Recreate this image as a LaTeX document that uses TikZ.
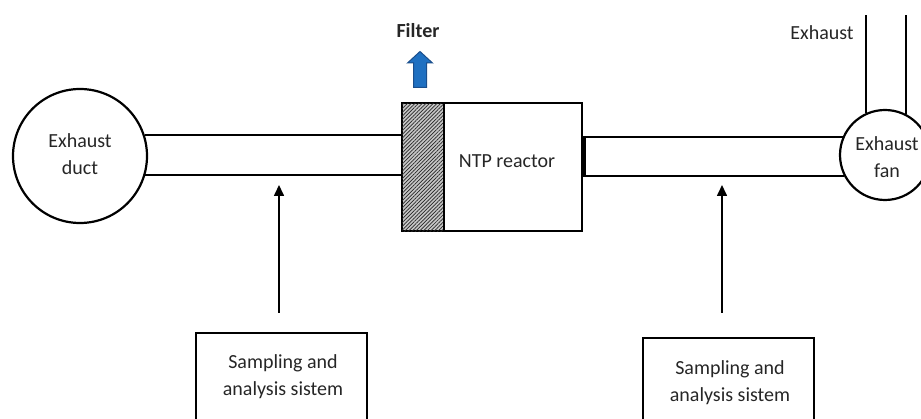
\documentclass[tikz,border=0pt]{standalone}
\usepackage{fontspec}
\setmainfont{Carlito}
\usetikzlibrary{arrows.meta,patterns.meta}
\definecolor{arrowblue}{HTML}{1F70C1}
\definecolor{arrowedge}{HTML}{1A4E8C}
\begin{document}
\begin{tikzpicture}[x=1pt,y=-1pt,
  lbl/.style={font=\fontsize{20}{27}\selectfont, align=center, inner sep=0pt, text=black!85},
  pipe/.style={line width=2pt},
  shp/.style={draw, line width=2.2pt, inner sep=0pt},
  sarrow/.style={line width=1.6pt, -{Triangle[length=11pt,width=10pt]}}]
\useasboundingbox (0,0) rectangle (921,419);
\clip (0,0) rectangle (921,419);

% circles
\node[shp, circle, minimum size=134pt] (duct) at (80,156) {};
\node[lbl] (ducttxt) at (80,154) {Exhaust\\duct};
\node[shp, circle, minimum size=90pt] (fan) at (885,155) {};
\node[lbl] (fantxt) at (887,157) {Exhaust\\fan};

% filter and reactor
\node[shp, anchor=north west, minimum width=42pt, minimum height=128pt,
      fill=gray!45, postaction={pattern={Lines[angle=45,distance=2.6pt,line width=0.7pt]}, pattern color=black!85}] (filter) at (401,102) {};
\node[shp, anchor=north west, minimum width=138pt, minimum height=128pt] (reactor) at (443,102) {};
\node[lbl] (reactortxt) at (507,161) {NTP reactor};

% pipe 1
\draw[pipe] (duct.18) -- (duct.18 -| filter.west);
\draw[pipe] (duct.-16) -- (duct.-16 -| filter.west);

% pipe 2
\draw[pipe] (fan.157.8) -- ([xshift=1pt]fan.157.8 -| reactor.east) -- ([xshift=1pt]fan.207.8 -| reactor.east) -- (fan.207.8);
\draw[line width=2.6pt] ([xshift=1.5pt]fan.157.8 -| reactor.east) -- ([xshift=1.5pt]fan.207.8 -| reactor.east);

% exhaust stack
\coordinate (stacktop) at (885,15);
\draw[pipe] (fan.115) -- (fan.115 |- stacktop);
\draw[pipe] (fan.63.6) -- (fan.63.6 |- stacktop);
\node[lbl] (exhausttxt) at (822,33) {Exhaust};

% filter label and arrow
\node[lbl, font=\fontsize{20}{27}\selectfont\bfseries] (filtertxt) at (418,31) {Filter};
\draw[fill=arrowblue, draw=arrowedge, line width=1pt, line join=miter]
  (413.5,87.5) -- (426.5,87.5) -- (426.5,63) -- (432.5,63) -- (420,51.5) -- (407.5,63) -- (413.5,63) -- cycle;

% sampling boxes
\node[shp, anchor=north west, minimum width=171pt, minimum height=110pt] (box1) at (195,332) {};
\node[lbl] (box1txt) at (283,377) {Sampling and\\analysis sistem};
\node[shp, anchor=north west, minimum width=171pt, minimum height=110pt] (box2) at (642,337) {};
\node[lbl] (box2txt) at (730,383) {Sampling and\\analysis sistem};

% sampling arrows
\coordinate (s1) at (279,313);
\coordinate (e1) at (279,185);
\coordinate (s2) at (722,313);
\coordinate (e2) at (722,185);
\draw[sarrow] (s1) -- (e1);
\draw[sarrow] (s2) -- (e2);
\end{tikzpicture}
\end{document}
